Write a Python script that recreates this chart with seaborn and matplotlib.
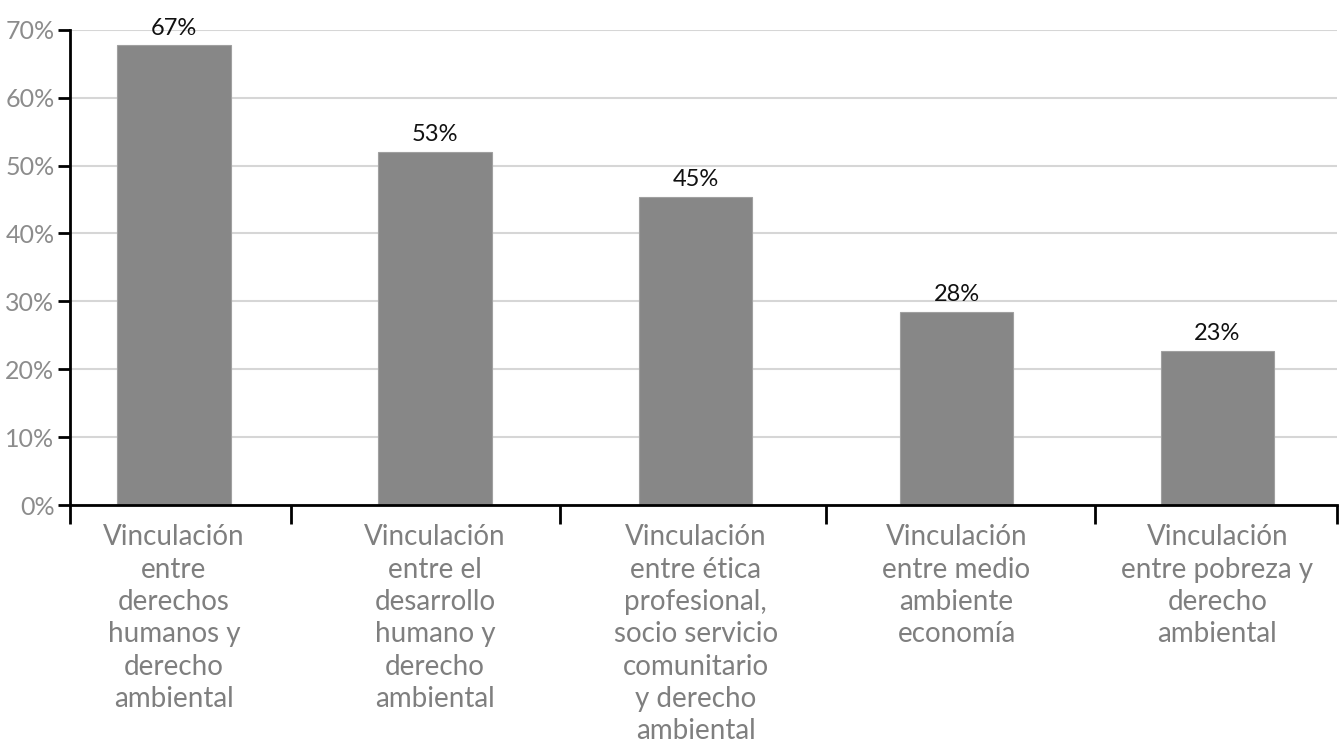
import numpy as np
import pandas as pd
import seaborn as sns
import matplotlib.pyplot as plt
from matplotlib.ticker import FixedLocator

categories = [
    "Vinculación\nentre\nderechos\nhumanos y\nderecho\nambiental",
    "Vinculación\nentre el\ndesarrollo\nhumano y\nderecho\nambiental",
    "Vinculación\nentre ética\nprofesional,\nsocio servicio\ncomunitario\ny derecho\nambiental",
    "Vinculación\nentre medio\nambiente\neconomía",
    "Vinculación\nentre pobreza y\nderecho\nambiental",
]
values = [67.7, 52.0, 45.4, 28.5, 22.7]
value_labels = ["67%", "53%", "45%", "28%", "23%"]
y_ticks = [0, 10, 20, 30, 40, 50, 60, 70]

df = pd.DataFrame({"cat": categories, "val": values})

sns.set_style("white")
plt.rcParams["font.family"] = ["Lato", "DejaVu Sans"]

fig = plt.figure(figsize=(13.4, 7.46), dpi=100)
ax = fig.add_axes([0.052, 0.323, 0.946, 0.637])

sns.barplot(data=df, x="cat", y="val", color="#878787", saturation=1,
            width=0.435, ax=ax, zorder=2)
for p in ax.patches:
    p.set_edgecolor("#a0a0a0")
    p.set_linewidth(0.8)

for i, (v, lab) in enumerate(zip(values, value_labels)):
    ax.text(i, v + 1.0, lab, ha="center", va="bottom", fontsize=17,
            color="#111111")

ax.set_xlim(-0.4, 4.46)
ax.set_ylim(0, 70)
ax.set_yticks(y_ticks)
ax.set_yticklabels([f"{t}%" for t in y_ticks], fontsize=18, color="#8c8c8c")
ax.yaxis.grid(True, color="#d6d6d6", linewidth=1.5, zorder=0)
ax.set_axisbelow(True)

ax.set_xlabel("")
ax.set_ylabel("")
ax.set_xticks(range(len(categories)))
ax.set_xticklabels(categories, fontsize=20, color="#7f7f7f", linespacing=1.3)
ax.xaxis.set_minor_locator(FixedLocator([-0.4, 0.45, 1.48, 2.5, 3.53, 4.46]))
ax.tick_params(axis="x", which="major", bottom=True, length=0, pad=14)
ax.tick_params(axis="x", which="minor", bottom=True, length=14, width=2,
               color="black", direction="out")
ax.tick_params(axis="y", left=True, length=9, width=2, color="black",
               direction="out", pad=2)

for s in ["top", "right"]:
    ax.spines[s].set_visible(False)
ax.spines["left"].set_linewidth(2)
ax.spines["bottom"].set_linewidth(2)
ax.spines["left"].set_color("black")
ax.spines["bottom"].set_color("black")

fig.savefig("out.png", dpi=100)
